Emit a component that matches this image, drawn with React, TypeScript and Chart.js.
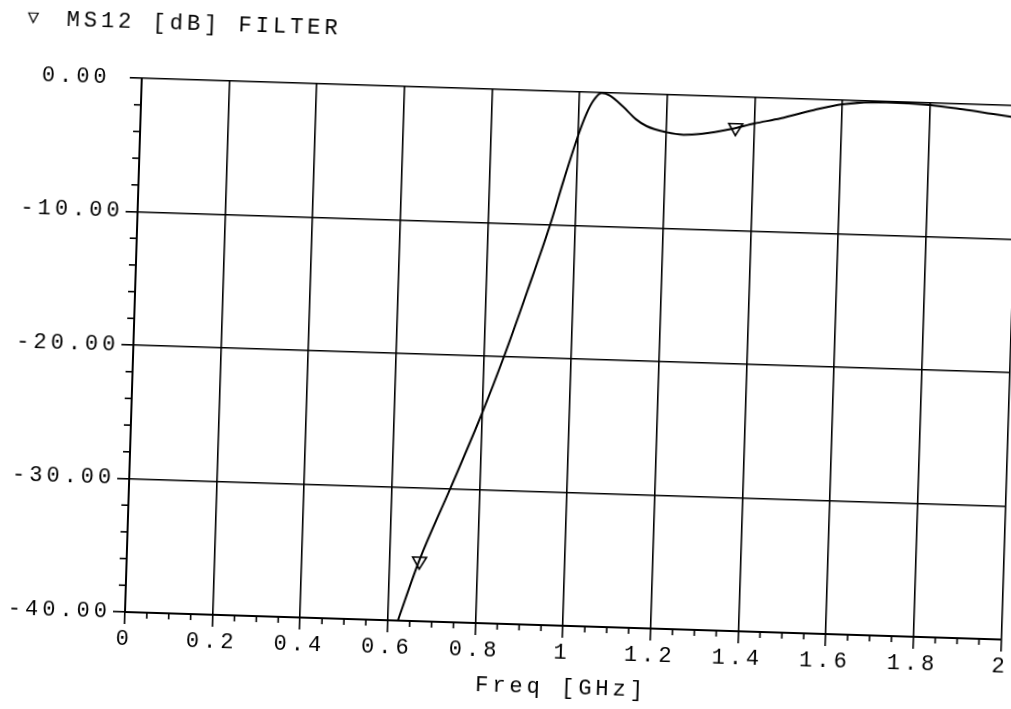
import React, { useEffect, useRef } from "react";
import { Chart, registerables } from "chart.js";

Chart.register(...registerables);

// ---- data ----
const freqGHz = [
  0.623, 0.667, 0.733, 0.8, 0.846, 0.895, 0.942, 0.97, 1.0, 1.017, 1.032, 1.05,
  1.069, 1.1, 1.13, 1.155, 1.2, 1.24, 1.28, 1.35, 1.4, 1.46, 1.535, 1.6, 1.7,
  1.8, 1.875, 1.95, 2.0,
];
const ms12dB = [
  -40, -35.5, -30, -24.3, -20, -15, -10, -6.6, -3.2, -1.6, -0.6, -0.02, -0.2,
  -1.0, -1.9, -2.4, -2.8, -2.95, -2.85, -2.4, -1.95, -1.5, -0.8, -0.3, -0.05,
  -0.15, -0.4, -0.7, -0.9,
];
const markerFreq = [0.668, 1.358];
const markerDB = [-35.5, -2.3];

const xTickValues = [0, 0.2, 0.4, 0.6, 0.8, 1, 1.2, 1.4, 1.6, 1.8, 2];
const xTickLabels = ["0", "0.2", "0.4", "0.6", "0.8", "1", "1.2", "1.4", "1.6", "1.8", "2"];
const yTickValues = [-40, -30, -20, -10, 0];
const yTickLabels = ["-40.00", "-30.00", "-20.00", "-10.00", "0.00 "];

const titleSymbol = "\u25BD";
const chartTitle = "MS12 [dB] FILTER";
const xAxisTitle = "Freq [GHz]";

const FONT = "'Liberation Mono', 'DejaVu Sans Mono', monospace";

const decorPlugin = {
  id: "decor",
  beforeDraw(chart: any) {
    chart.ctx.letterSpacing = "4px";
  },
  afterDraw(chart: any) {
    const ctx = chart.ctx;
    const xs = chart.scales.x;
    const ys = chart.scales.y;
    ctx.save();
    ctx.strokeStyle = "#000";
    ctx.lineWidth = 1.6;
    // minor ticks on x (every 0.05)
    for (let i = 0; i <= 40; i++) {
      if (i % 4 === 0) continue;
      const px = xs.getPixelForValue(i * 0.05);
      ctx.beginPath();
      ctx.moveTo(px, ys.bottom);
      ctx.lineTo(px, ys.bottom + 6);
      ctx.stroke();
    }
    // minor ticks on y (every 2 dB)
    for (let i = 0; i <= 20; i++) {
      if (i % 5 === 0) continue;
      const py = ys.getPixelForValue(-40 + i * 2);
      ctx.beginPath();
      ctx.moveTo(xs.left, py);
      ctx.lineTo(xs.left - 7, py);
      ctx.stroke();
    }
    // title
    ctx.fillStyle = "#000";
    ctx.textAlign = "left";
    ctx.textBaseline = "middle";
    ctx.letterSpacing = "0px";
    ctx.font = `19px ${FONT}`;
    ctx.fillText(titleSymbol, 9, 21);
    ctx.font = `22px ${FONT}`;
    ctx.letterSpacing = "4px";
    ctx.fillText(chartTitle, 48, 22);
    ctx.restore();
  },
};

function labelFor(values: number[], labels: string[], v: number) {
  const i = values.findIndex((t) => Math.abs(t - v) < 1e-6);
  return i >= 0 ? labels[i] : "";
}

export default function App() {
  const ref = useRef<HTMLCanvasElement | null>(null);

  useEffect(() => {
    if (!ref.current) return;
    const curve = freqGHz.map((x, i) => ({ x, y: ms12dB[i] }));
    const markers = markerFreq.map((x, i) => ({ x, y: markerDB[i] }));
    const chart = new Chart(ref.current, {
      type: "line",
      data: {
        datasets: [
          {
            label: "MS12",
            data: curve,
            borderColor: "#000",
            borderWidth: 2,
            pointRadius: 0,
            cubicInterpolationMode: "monotone",
            fill: false,
          },
          {
            label: "markers",
            data: markers,
            showLine: false,
            pointStyle: "triangle",
            pointRotation: 180,
            pointRadius: 8,
            pointBackgroundColor: "#fff",
            pointBorderColor: "#000",
            pointBorderWidth: 1.6,
          },
        ],
      },
      options: {
        responsive: false,
        animation: false,
        events: [],
        layout: { padding: { top: 78, right: 9, left: 0, bottom: 0 } },
        plugins: { legend: { display: false }, tooltip: { enabled: false }, title: { display: false } },
        scales: {
          x: {
            type: "linear",
            min: 0,
            max: 2,
            afterFit: (s: any) => {
              s.height = 97;
            },
            ticks: {
              stepSize: 0.2,
              autoSkip: false,
              maxRotation: 0,
              minRotation: 0,
              padding: 2,
              color: "#000",
              font: { family: FONT, size: 22 },
              callback: (v: any) => labelFor(xTickValues, xTickLabels, Number(v)),
            },
            title: {
              display: true,
              text: xAxisTitle,
              color: "#000",
              font: { family: FONT, size: 22 },
              padding: { top: 0, bottom: 22 },
            },
            grid: { color: "#000", lineWidth: 1.6, tickLength: 12, tickColor: "#000" },
            border: { display: true, color: "#000", width: 2 },
          },
          y: {
            type: "linear",
            min: -40,
            max: 0,
            afterFit: (s: any) => {
              s.width = 125;
            },
            ticks: {
              stepSize: 10,
              padding: 2,
              color: "#000",
              font: { family: FONT, size: 22 },
              callback: (v: any) => labelFor(yTickValues, yTickLabels, Number(v)),
            },
            grid: { color: "#000", lineWidth: 1.6, tickLength: 12, tickColor: "#000" },
            border: { display: true, color: "#000", width: 2 },
          },
        },
      },
      plugins: [decorPlugin],
    });
    return () => chart.destroy();
  }, []);

  return (
    <div
      style={{
        position: "fixed",
        left: 0,
        top: 0,
        width: 1011,
        height: 709,
        overflow: "hidden",
        background: "#fff",
      }}
    >
      <div
        style={{
          width: 1011,
          height: 709,
          transform: "rotate(1.8deg)",
          transformOrigin: "125px 612px",
        }}
      >
        <canvas ref={ref} width={1011} height={709} style={{ display: "block", width: 1011, height: 709 }} />
      </div>
    </div>
  );
}
